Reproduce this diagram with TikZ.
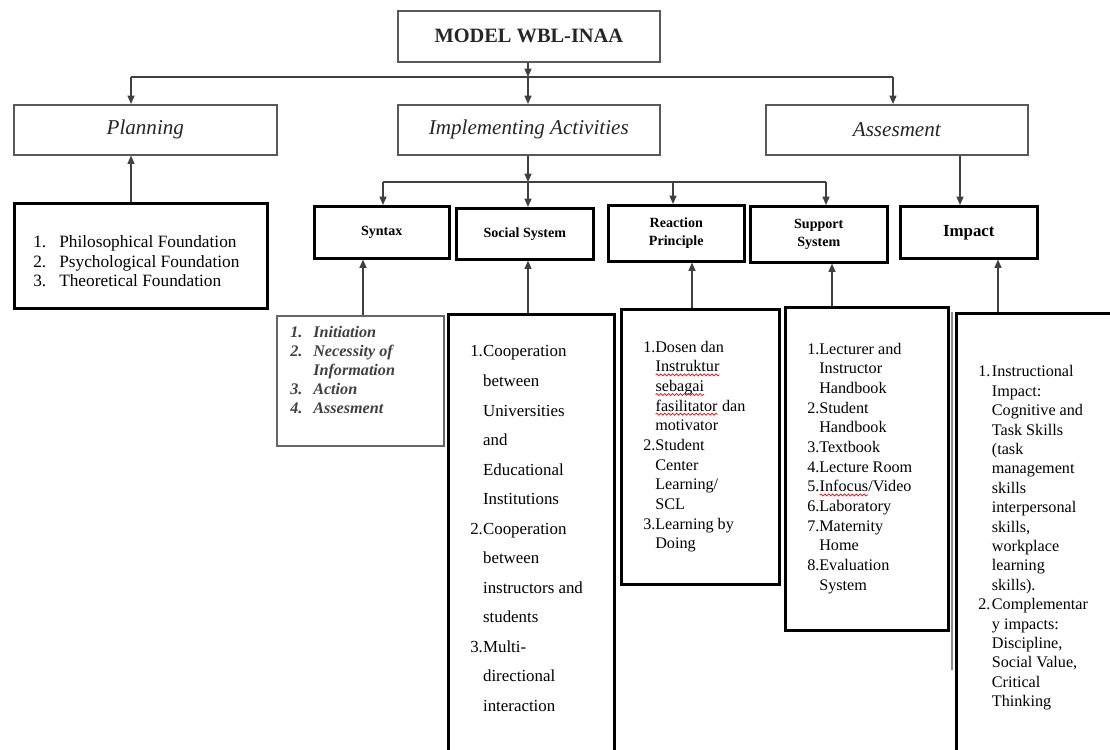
\documentclass[tikz,border=0pt]{standalone}
\usepackage{fontspec}
\setmainfont{Liberation Serif}
\usetikzlibrary{arrows.meta,decorations.pathmorphing}

% red spell-check wave under a word
\newcommand\redwave[1]{\tikz[baseline=(rw.base)]{\node[inner sep=0pt, outer sep=0pt] (rw) {#1};
    \draw[red, line width=0.5pt, decorate, decoration={snake, amplitude=0.7pt, segment length=2.8pt}]
        ([yshift=-2.2pt]rw.base west) -- ([yshift=-2.2pt]rw.base east);}}

\begin{document}
\begin{tikzpicture}[x=0.025cm, y=-0.025cm,
    headbox/.style={draw=black!65, line width=1.1pt, anchor=north west, inner sep=0pt, text=black!85, font=\fontsize{15}{18}\selectfont\itshape},
    subbox/.style={draw=black, line width=1.8pt, anchor=north west, inner sep=0pt, align=center, font=\fontsize{10}{12.4}\selectfont\bfseries},
    listbox/.style={draw=black, line width=1.8pt, anchor=north west, inner sep=0pt},
    listtext/.style={anchor=north west, inner sep=0pt, align=left, font=\fontsize{11.5}{14}\selectfont},
    link/.style={draw=black!75, line width=1pt},
    arr/.style={link, -{Triangle[length=6pt,width=5pt]}}]
    \useasboundingbox (0,0) rectangle (1110,749);
    \clip (0,0) rectangle (1110,749);

    % Top level
    \node[headbox, minimum width=6.55cm, minimum height=1.275cm, font=\fontsize{14.5}{17}\selectfont\bfseries] (model) at (397,10) {MODEL WBL-INAA};
    \node[headbox, minimum width=6.575cm, minimum height=1.25cm] (planning) at (13,104) {Planning};
    \node[headbox, minimum width=6.55cm, minimum height=1.25cm] (implementing) at (397,104) {Implementing Activities};
    \node[headbox, minimum width=6.55cm, minimum height=1.25cm] (assesment) at (765,104) {Assesment};

    \coordinate (topbar) at (528,77);
    \coordinate (jplan) at (131,77);
    \coordinate (jass) at (893,77);
    \draw[arr] (topbar |- model.south) -- (topbar);
    \draw[link] (jplan) -- (jass);
    \draw[arr] (jplan) -- (jplan |- planning.north);
    \draw[arr] (topbar) -- (topbar |- implementing.north);
    \draw[arr] (jass) -- (jass |- assesment.north);

    % Components of the model
    \node[subbox, minimum width=3.375cm, minimum height=1.3cm] (syntax) at (313,205) {Syntax};
    \node[subbox, minimum width=3.425cm, minimum height=1.275cm] (social) at (455,207) {Social System};
    \node[subbox, minimum width=3.4cm, minimum height=1.4cm] (reaction) at (607,204) {Reaction\\Principle};
    \node[subbox, minimum width=3.425cm, minimum height=1.4cm] (support) at (749,205) {Support\\System};
    \node[subbox, minimum width=3.425cm, minimum height=1.3cm, font=\fontsize{12}{14}\selectfont\bfseries] (impact) at (899,205) {Impact};

    \coordinate (midbar) at (528,182);
    \coordinate (jsyn) at (383,182);
    \coordinate (jrea) at (673,182);
    \coordinate (jsup) at (826,182);
    \draw[arr] (midbar |- implementing.south) -- (midbar);
    \draw[link] (jsyn) -- (jsup);
    \draw[arr] (jsyn) -- (jsyn |- syntax.north);
    \draw[arr] (midbar) -- (midbar |- social.north);
    \draw[arr] (jrea) -- (jrea |- reaction.north);
    \draw[arr] (jsup) -- (jsup |- support.north);
    \draw[arr] (assesment.south -| 960,0) -- (impact.north -| 960,0);

    % Content boxes
    \node[listbox, minimum width=6.325cm, minimum height=2.625cm] (phil) at (13,202) {};
    \node[listbox, draw=black!60, line width=1.1pt, minimum width=4.175cm, minimum height=3.25cm] (syntaxlist) at (276,315) {};
    \node[listbox, minimum width=4.15cm, minimum height=11.5cm] (sociallist) at (447,313) {};
    \node[listbox, minimum width=3.95cm, minimum height=6.875cm] (reactionlist) at (620,308) {};
    \node[listbox, minimum width=4.075cm, minimum height=8.075cm] (supportlist) at (784,306) {};
    \node[listbox, minimum width=4.5cm, minimum height=11.5cm] (impactlist) at (955,312) {};
    \draw[black!45, line width=1.2pt] (952,312) -- (952,670);

    \foreach \lst/\hd/\x in {phil/planning/131, syntaxlist/syntax/363, sociallist/social/528,
        reactionlist/reaction/692, supportlist/support/832, impactlist/impact/998}
        \draw[arr] (\lst.north -| \x,0) -- (\hd.south -| \x,0);

    % Texts of the lists
    \node[listtext, font=\fontsize{12.3}{13.8}\selectfont] (philtxt) at (33,234)
        {\begin{tabular}{@{}p{0.65cm}@{}l@{}}1. & Philosophical Foundation\\ 2. & Psychological Foundation\\ 3. & Theoretical Foundation\end{tabular}};
    \node[listtext, text=black!75, font=\fontsize{11.5}{13.5}\selectfont\bfseries\itshape] (syntaxtxt) at (290,324)
        {\begin{tabular}{@{}p{0.575cm}@{}l@{}}1. & Initiation\\ 2. & Necessity of\\ & Information\\ 3. & Action\\ 4. & Assesment\end{tabular}};
    \node[listtext, font=\fontsize{12}{21}\selectfont] (socialtxt) at (470,336)
        {\begin{tabular}{@{}p{0.32cm}@{}l@{}}1. & Cooperation\\ & between\\ & Universities\\ & and\\ & Educational\\ & Institutions\\
        2. & Cooperation\\ & between\\ & instructors and\\ & students\\ 3. & Multi-\\ & directional\\ & interaction\end{tabular}};
    \node[listtext] (reactiontxt) at (643,338)
        {\begin{tabular}{@{}p{0.3cm}@{}l@{}}1. & Dosen dan\\ & \redwave{Instruktur}\\ & \redwave{sebagai}\\ & \redwave{fasilitator} dan\\ & motivator\\
        2. & Student\\ & Center\\ & Learning/\\ & SCL\\ 3. & Learning by\\ & Doing\end{tabular}};
    \node[listtext] (supporttxt) at (807,340)
        {\begin{tabular}{@{}p{0.3cm}@{}l@{}}1. & Lecturer and\\ & Instructor\\ & Handbook\\ 2. & Student\\ & Handbook\\ 3. & Textbook\\ 4. & Lecture Room\\
        5. & \redwave{Infocus}/Video\\ 6. & Laboratory\\ 7. & Maternity\\ & Home\\ 8. & Evaluation\\ & System\end{tabular}};
    \node[listtext, font=\fontsize{11.5}{13.8}\selectfont] (impacttxt) at (978,363)
        {\begin{tabular}{@{}p{0.34cm}@{}l@{}}1. & Instructional\\ & Impact:\\ & Cognitive and\\ & Task Skills\\ & (task\\ & management\\ & skills\\ & interpersonal\\ & skills,\\ & workplace\\ & learning\\ & skills).\\
        2. & Complementar\\ & y impacts:\\ & Discipline,\\ & Social Value,\\ & Critical\\ & Thinking\end{tabular}};
\end{tikzpicture}
\end{document}
